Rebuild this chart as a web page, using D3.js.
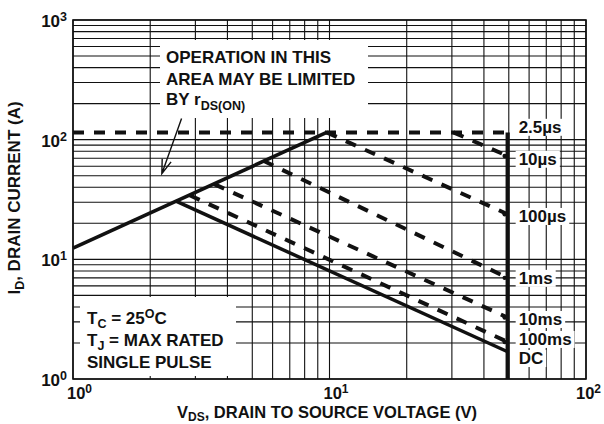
<!DOCTYPE html>
<html>
<head>
<meta charset="utf-8">
<script src="https://cdn.jsdelivr.net/npm/d3@7/dist/d3.min.js"></script>
<style>
	body { margin: 0; background: #fff; }
	svg { display: block; }
	text { font-family: "Liberation Sans", Arial, Helvetica, sans-serif; font-weight: bold; fill: #111; }
</style>
</head>
<body>
<svg id="chart" width="604" height="424"></svg>
<script>
// axis ranges and tick labels
var X_DOMAIN = [1, 100];
var Y_DOMAIN = [1, 1000];
var X_TICKS = [1, 10, 100];
var X_EXP = ["0", "1", "2"];
var Y_TICKS = [1, 10, 100, 1000];
var Y_EXP = ["0", "1", "2", "3"];

// safe operating area lines [VDS, ID]
var RDS_LIMIT = [[1, 12.4], [9.75, 115]];
var VDSS_LIMIT = [[49.5, 115], [49.5, 1]];
var PULSE_NAMES = ["2.5\u00b5s", "10\u00b5s", "100\u00b5s", "1ms", "10ms", "100ms", "DC"];
var PULSE_LINES = [
	[[1, 115], [49.5, 115]],
	[[30.4, 115], [49.5, 73]],
	[[9.75, 115], [49.5, 23.8]],
	[[5.52, 66.6], [49.5, 7.0]],
	[[3.55, 42.5], [49.5, 3.26]],
	[[2.85, 34.3], [49.5, 2.04]],
	[[2.52, 30.6], [49.5, 1.69]]
];
var PULSE_DASHED = [true, true, true, true, true, true, false];
// label vertical nudge (px) relative to the line end
var LABEL_DY = [-5.6, 2.7, 1.7, 0, 1.4, -3, 6.3];

// annotation arrow [VDS, ID]
var ARROW_FROM = [2.65, 150];
var ARROW_TO = [2.22, 52];

var svg = d3.select("#chart");
var x = d3.scaleLog().domain(X_DOMAIN).range([73, 586]);
var y = d3.scaleLog().domain(Y_DOMAIN).range([379, 20]);

// grid
var grid = svg.append("g");
grid.selectAll(".vg")
	.data(x.ticks())
	.enter().append("line")
	.attr("x1", function(d) { return x(d); })
	.attr("x2", function(d) { return x(d); })
	.attr("y1", y(Y_DOMAIN[0]))
	.attr("y2", y(Y_DOMAIN[1]))
	.attr("stroke", "#111")
	.attr("stroke-width", 1.1);
grid.selectAll(".hg")
	.data(y.ticks())
	.enter().append("line")
	.attr("x1", x(X_DOMAIN[0]))
	.attr("x2", x(X_DOMAIN[1]))
	.attr("y1", function(d) { return y(d); })
	.attr("y2", function(d) { return y(d); })
	.attr("stroke", "#111")
	.attr("stroke-width", 1.1);

// white boxes behind the notes
svg.append("rect").attr("x", 160).attr("y", 40).attr("width", 208).attr("height", 78).attr("fill", "white");
svg.append("rect").attr("x", 80).attr("y", 297).attr("width", 156).attr("height", 79).attr("fill", "white");

// frame
svg.append("rect")
	.attr("x", x(X_DOMAIN[0]))
	.attr("y", y(Y_DOMAIN[1]))
	.attr("width", x(X_DOMAIN[1]) - x(X_DOMAIN[0]))
	.attr("height", y(Y_DOMAIN[0]) - y(Y_DOMAIN[1]))
	.attr("fill", "none")
	.attr("stroke", "#111")
	.attr("stroke-width", 1.6);

var line = d3.line()
	.x(function(d) { return x(d[0]); })
	.y(function(d) { return y(d[1]); });

// pulse lines
PULSE_LINES.forEach(function(pts, i) {
	svg.append("path")
		.attr("d", line(pts))
		.attr("fill", "none")
		.attr("stroke", "#111")
		.attr("stroke-width", PULSE_DASHED[i] ? 4 : 3.5)
		.attr("stroke-dasharray", PULSE_DASHED[i] ? "11,10" : null);
	if (PULSE_DASHED[i] && i > 0) {
		var e = pts[pts.length - 1];
		svg.append("circle")
			.attr("cx", x(e[0]) - 3)
			.attr("cy", y(e[1]))
			.attr("r", 2.2)
			.attr("fill", "#111");
	}
});

svg.append("path")
	.attr("d", line(RDS_LIMIT))
	.attr("fill", "none")
	.attr("stroke", "#111")
	.attr("stroke-width", 3.6);

svg.append("path")
	.attr("d", line(VDSS_LIMIT))
	.attr("fill", "none")
	.attr("stroke", "#111")
	.attr("stroke-width", 4.2);

// pulse labels with white backing
PULSE_NAMES.forEach(function(name, i) {
	var e = PULSE_LINES[i][PULSE_LINES[i].length - 1];
	var g = svg.append("g");
	var t = g.append("text")
		.attr("x", x(e[0]) + 11)
		.attr("y", y(e[1]) + LABEL_DY[i] + 6)
		.attr("font-size", 17)
		.text(name);
	var b = t.node().getBBox();
	g.insert("rect", "text")
		.attr("x", b.x - 3)
		.attr("y", b.y + 1)
		.attr("width", b.width + 6)
		.attr("height", b.height - 2)
		.attr("fill", "white");
});

// note top
var note = svg.append("g").attr("font-size", 17);
note.append("text").attr("x", 166).attr("y", 63).text("OPERATION IN THIS");
note.append("text").attr("x", 166).attr("y", 85).text("AREA MAY BE LIMITED");
var by = note.append("text").attr("x", 166).attr("y", 105);
by.append("tspan").text("BY r");
by.append("tspan").attr("dy", 5).attr("font-size", 12.5).text("DS(ON)");

// arrow
var a0 = [x(ARROW_FROM[0]), y(ARROW_FROM[1])],
	a1 = [x(ARROW_TO[0]), y(ARROW_TO[1])];
var ang = Math.atan2(a1[1] - a0[1], a1[0] - a0[0]);
var hl = 15, spread = 0.32;
svg.append("path")
	.attr("d", "M" + a0[0] + "," + a0[1] + "L" + a1[0] + "," + a1[1] +
		"M" + (a1[0] - hl * Math.cos(ang - spread)) + "," + (a1[1] - hl * Math.sin(ang - spread)) +
		"L" + a1[0] + "," + a1[1] +
		"L" + (a1[0] - hl * Math.cos(ang + spread)) + "," + (a1[1] - hl * Math.sin(ang + spread)))
	.attr("fill", "none")
	.attr("stroke", "#111")
	.attr("stroke-width", 1.4);

// note bottom
var cond = svg.append("g").attr("font-size", 17);
var t1 = cond.append("text").attr("x", 87).attr("y", 324);
t1.append("tspan").text("T");
t1.append("tspan").attr("dy", 4).attr("font-size", 12.5).text("C");
t1.append("tspan").attr("dy", -4).text(" = 25");
t1.append("tspan").attr("dy", -6).attr("font-size", 12.5).text("O");
t1.append("tspan").attr("dy", 6).text("C");
var t2 = cond.append("text").attr("x", 87).attr("y", 346);
t2.append("tspan").text("T");
t2.append("tspan").attr("dy", 4).attr("font-size", 12.5).text("J");
t2.append("tspan").attr("dy", -4).text(" = MAX RATED");
cond.append("text").attr("x", 87).attr("y", 368).text("SINGLE PULSE");

// tick labels
X_TICKS.forEach(function(v, i) {
	var t = svg.append("text")
		.attr("x", Math.min(x(v) - 6, 604 - 28))
		.attr("y", 399)
		.attr("font-size", 16.5);
	t.append("tspan").text("10");
	t.append("tspan").attr("dy", -6).attr("font-size", 12).text(X_EXP[i]);
});
Y_TICKS.forEach(function(v, i) {
	var t = svg.append("text")
		.attr("x", 67)
		.attr("y", Math.max(y(v) + 7, 23))
		.attr("text-anchor", "end")
		.attr("font-size", 17);
	t.append("tspan").text("10");
	t.append("tspan").attr("dy", -6).attr("font-size", 12.5).text(Y_EXP[i]);
});

// axis titles
var xt = svg.append("text")
	.attr("x", 327)
	.attr("y", 418)
	.attr("text-anchor", "middle")
	.attr("font-size", 16.5);
xt.append("tspan").text("V");
xt.append("tspan").attr("dy", 3).attr("font-size", 12).text("DS");
xt.append("tspan").attr("dy", -3).text(", DRAIN TO SOURCE VOLTAGE (V)");

var yt = svg.append("text")
	.attr("transform", "translate(20,198) rotate(-90)")
	.attr("text-anchor", "middle")
	.attr("font-size", 17);
yt.append("tspan").text("I");
yt.append("tspan").attr("dy", 4).attr("font-size", 12.5).text("D");
yt.append("tspan").attr("dy", -4).text(", DRAIN CURRENT (A)");
</script>
</body>
</html>
